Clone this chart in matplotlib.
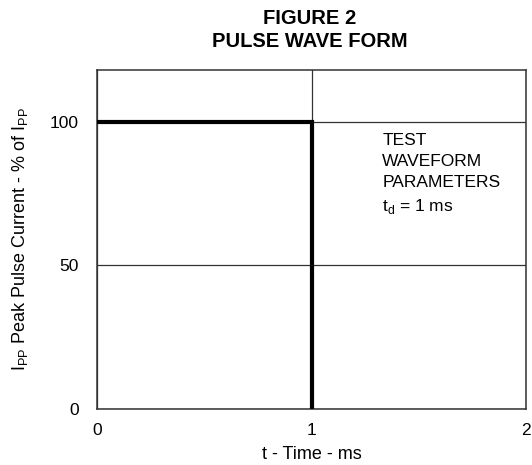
import matplotlib.pyplot as plt

plt.rcParams['font.family'] = ['Liberation Sans', 'DejaVu Sans']
plt.rcParams['mathtext.fontset'] = 'custom'
plt.rcParams['mathtext.rm'] = 'Liberation Sans'

# pulse waveform: rectangular pulse, 100 % for t_d = 1 ms
t = [0, 1, 1]
current = [100, 100, 0]

xticks = [0, 1, 2]
yticks = [0, 50, 100]

fig = plt.figure(figsize=(5.32, 4.65), dpi=100)
ax = fig.add_axes([97 / 532, 1 - 409 / 465, 429 / 532, 339 / 465])

ax.plot(t, current, color='black', lw=3, solid_joinstyle='miter', zorder=3)

ax.set_xlim(0, 2)
ax.set_ylim(0, 118)
ax.set_xticks(xticks)
ax.set_yticks(yticks)
ax.tick_params(length=0, labelsize=12.5)
ax.tick_params(axis='y', pad=13)
ax.tick_params(axis='x', pad=10)
ax.grid(True, color='#333333', lw=0.9)
for s in ax.spines.values():
    s.set_color('#333333')
    s.set_linewidth(1.1)

ax.set_xlabel('t - Time - ms', fontsize=13, labelpad=6)
ax.set_ylabel(r'I$_\mathregular{PP}$ Peak Pulse Current - % of I$_\mathregular{PP}$',
              fontsize=13, labelpad=14)
fig.suptitle('FIGURE 2\nPULSE WAVE FORM', x=310 / 532, y=1 - 9 / 465,
             fontsize=14.5, fontweight='bold', linespacing=1.25)

ax.text(1.33, 96, 'TEST\nWAVEFORM\nPARAMETERS\nt$_\\mathregular{d}$ = 1 ms',
        fontsize=12.5, va='top', ha='left', linespacing=1.5)

fig.savefig('out.png', dpi=100)
